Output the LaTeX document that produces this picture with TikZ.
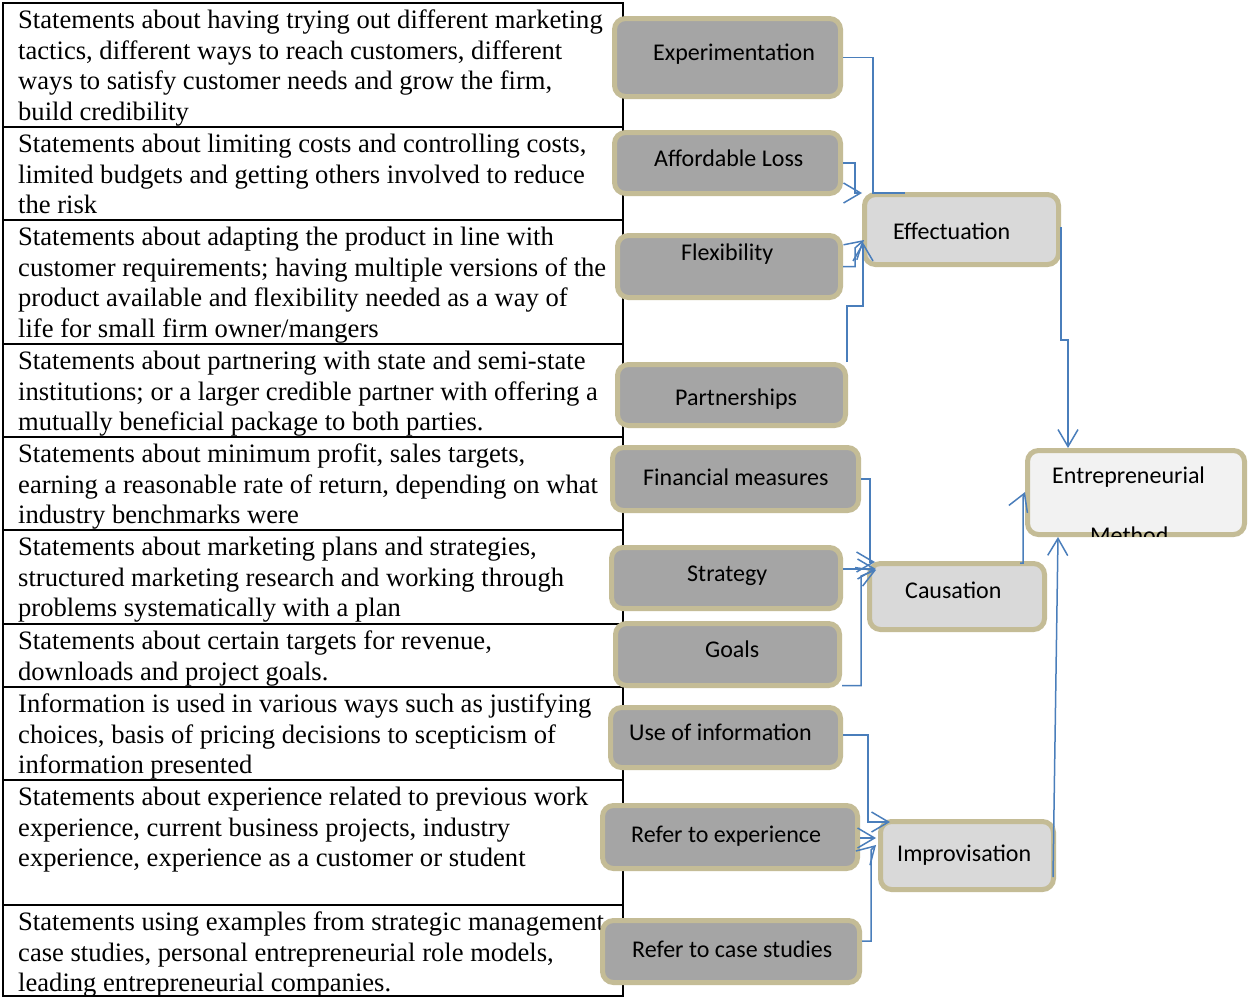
\documentclass[tikz,border=0pt]{standalone}
\usepackage{fontspec}
\setmainfont{Liberation Serif}
\newfontfamily\calfont{Carlito}
\usetikzlibrary{arrows.meta}
\definecolor{tanb}{HTML}{C4BC96}
\definecolor{boxgray}{HTML}{A5A5A5}
\definecolor{midgray}{HTML}{D9D9D9}
\definecolor{palegray}{HTML}{F2F2F2}
\definecolor{conblue}{HTML}{4A7EBB}
\begin{document}
\begin{tikzpicture}[x=1pt,y=-1pt,
  box/.style={draw=tanb, line width=5pt, rounded corners=11pt, inner sep=0pt},
  lbox/.style={box, fill=boxgray},
  mbox/.style={box, fill=midgray},
  ebox/.style={box, fill=palegray},
  lbl/.style={font=\fontsize{24pt}{29pt}\calfont, anchor=base west, inner sep=0pt},
  rowtxt/.style={font=\fontsize{26.6pt}{30.7pt}\selectfont, anchor=base west, inner sep=0pt, align=left},
  rule/.style={line width=2pt, black},
  conn/.style={draw=conblue, line width=1.5pt, -{Straight Barb[length=17pt,width=20pt]}},
  plainconn/.style={draw=conblue, line width=1.5pt}
]
\useasboundingbox (0,0) rectangle (1248,999);
\fill[white] (0,0) rectangle (1248,999);

% ---- table ----
\draw[rule] (3,3) rectangle (623,996);
\foreach \yy in {127,220,344,437,530,624,687,780,905}
  \draw[rule] (3,\yy) -- (623,\yy);

% base anchor = baseline of the last line of each row
\node[rowtxt] (t1) at (18,120.6) {Statements about having trying out different marketing\\tactics, different ways to reach customers, different\\ways to satisfy customer needs and grow the firm,\\build credibility};
\node[rowtxt] (t2) at (18,213.9) {Statements about limiting costs and controlling costs,\\limited budgets and getting others involved to reduce\\the risk};
\node[rowtxt] (t3) at (18,337.6) {Statements about adapting the product in line with\\customer requirements; having multiple versions of the\\product available and flexibility needed as a way of\\life for small firm owner/mangers};
\node[rowtxt] (t4) at (18,430.9) {Statements about partnering with state and semi-state\\institutions; or a larger credible partner with offering a\\mutually beneficial package to both parties.};
\node[rowtxt] (t5) at (18,523.9) {Statements about minimum profit, sales targets,\\earning a reasonable rate of return, depending on what\\industry benchmarks were};
\node[rowtxt] (t6) at (18,616.9) {Statements about marketing plans and strategies,\\structured marketing research and working through\\problems systematically with a plan};
\node[rowtxt] (t7) at (18,680.2) {Statements about certain targets for revenue,\\downloads and project goals.};
\node[rowtxt] (t8) at (18,773.9) {Information is used in various ways such as justifying\\choices, basis of pricing decisions to scepticism of\\information presented};
\node[rowtxt] (t9) at (18,866.9) {Statements about experience related to previous work\\experience, current business projects, industry\\experience, experience as a customer or student};
\node[rowtxt] (t10) at (18,991.9) {Statements using examples from strategic management\\case studies, personal entrepreneurial role models,\\leading entrepreneurial companies.};

% ---- boxes ----
\node[lbox, minimum width=226pt, minimum height=78pt] (exp) at (727.5,57.5) {};
\node[lbox, minimum width=226pt, minimum height=61pt] (aff) at (727.5,163) {};
\node[lbox, minimum width=223pt, minimum height=62pt] (flex) at (729,266.5) {};
\node[lbox, minimum width=228pt, minimum height=61pt] (part) at (731.5,395) {};
\node[lbox, minimum width=246pt, minimum height=63pt] (fin) at (735.5,479) {};
\node[lbox, minimum width=229pt, minimum height=61pt] (str) at (726,578) {};
\node[lbox, minimum width=224pt, minimum height=62pt] (goals) at (727.5,654.5) {};
\node[lbox, minimum width=230pt, minimum height=60pt] (use) at (725.5,737.5) {};
\node[lbox, minimum width=255pt, minimum height=63pt] (rexp) at (730,837) {};
\node[lbox, minimum width=257pt, minimum height=62pt] (rcase) at (731,951.5) {};
\node[mbox, minimum width=194pt, minimum height=70pt] (eff) at (961.5,229.5) {};
\node[mbox, minimum width=175pt, minimum height=66pt] (caus) at (957,596.5) {};
\node[mbox, minimum width=173pt, minimum height=68pt] (impr) at (967,855.5) {};
\node[ebox, minimum width=217pt, minimum height=84pt] (entr) at (1136,492.5) {};

% ---- labels ----
\node[lbl] (lexp) at (653,60) {Experimentation};
\node[lbl] (laff) at (654,166) {Affordable Loss};
\node[lbl] (lflex) at (681,260) {Flexibility};
\node[lbl] (lpart) at (675,405) {Partnerships};
\node[lbl] (lfin) at (643,485) {Financial measures};
\node[lbl] (lstr) at (687,581) {Strategy};
\node[lbl] (lgoals) at (705,657) {Goals};
\node[lbl] (luse) at (629,740) {Use of information};
\node[lbl] (lrexp) at (631,842) {Refer to experience};
\node[lbl] (lrcase) at (632,957) {Refer to case studies};
\node[lbl] (leff) at (893,239) {Effectuation};
\node[lbl] (lcaus) at (905,598) {Causation};
\node[lbl] (limpr) at (897,861) {Improvisation};
\node[lbl] (lentr) at (1052,483) {Entrepreneurial};
\begin{scope}
  \clip (1025,448) rectangle (1248,536);
  \node[lbl] (lmeth) at (1090,543) {Method};
\end{scope}

% ---- connectors ----
\draw[plainconn] (exp.east) -| (873,193) -- ([xshift=43pt,yshift=-1pt]eff.north west);
\draw[conn] (aff.east) -| (855,193) -- ([yshift=-1pt]eff.north west);
\draw[conn] (flex.east) -- (855,266.5) -- (855,248) -- ([xshift=2pt,yshift=-10.5pt]eff.west);
\draw[conn] ([xshift=-1pt]part.north east) |- (863,306) -- ([xshift=1pt,yshift=-13pt]eff.west);
\draw[conn] ([yshift=2.5pt]eff.east) |- (1068,340) -- ([xshift=43pt]entr.north west);

\draw[conn] (fin.east) -| (870,562) -- ([xshift=8pt,yshift=-1pt]caus.north west);
\draw[conn] ([yshift=9pt]str.east) -- ([xshift=9pt,yshift=-8pt]caus.north west);
\draw[conn] ([yshift=-31pt]goals.east) -| (861,576) -- ([xshift=9pt,yshift=-9pt]caus.north west);
\draw[conn] ([xshift=-27pt,yshift=-2pt]caus.north east) -- (1023,563) -- (1023,497) -- ([yshift=-44pt]entr.north west);

\draw[conn] ([yshift=2.5pt]use.east) -| (868,822) -- ([xshift=12pt,yshift=-3pt]impr.north west);
\draw[conn] ([yshift=-1pt]rexp.east) -- ([xshift=-2pt,yshift=17.5pt]impr.west);
\draw[conn] ([yshift=10.5pt]rcase.east) -| (871,850) -- ([xshift=-2pt,yshift=10.5pt]impr.west);
\draw[conn] ([xshift=-3pt,yshift=-21.5pt]impr.east) -- ([xshift=33pt]entr.south west);
\end{tikzpicture}
\end{document}
